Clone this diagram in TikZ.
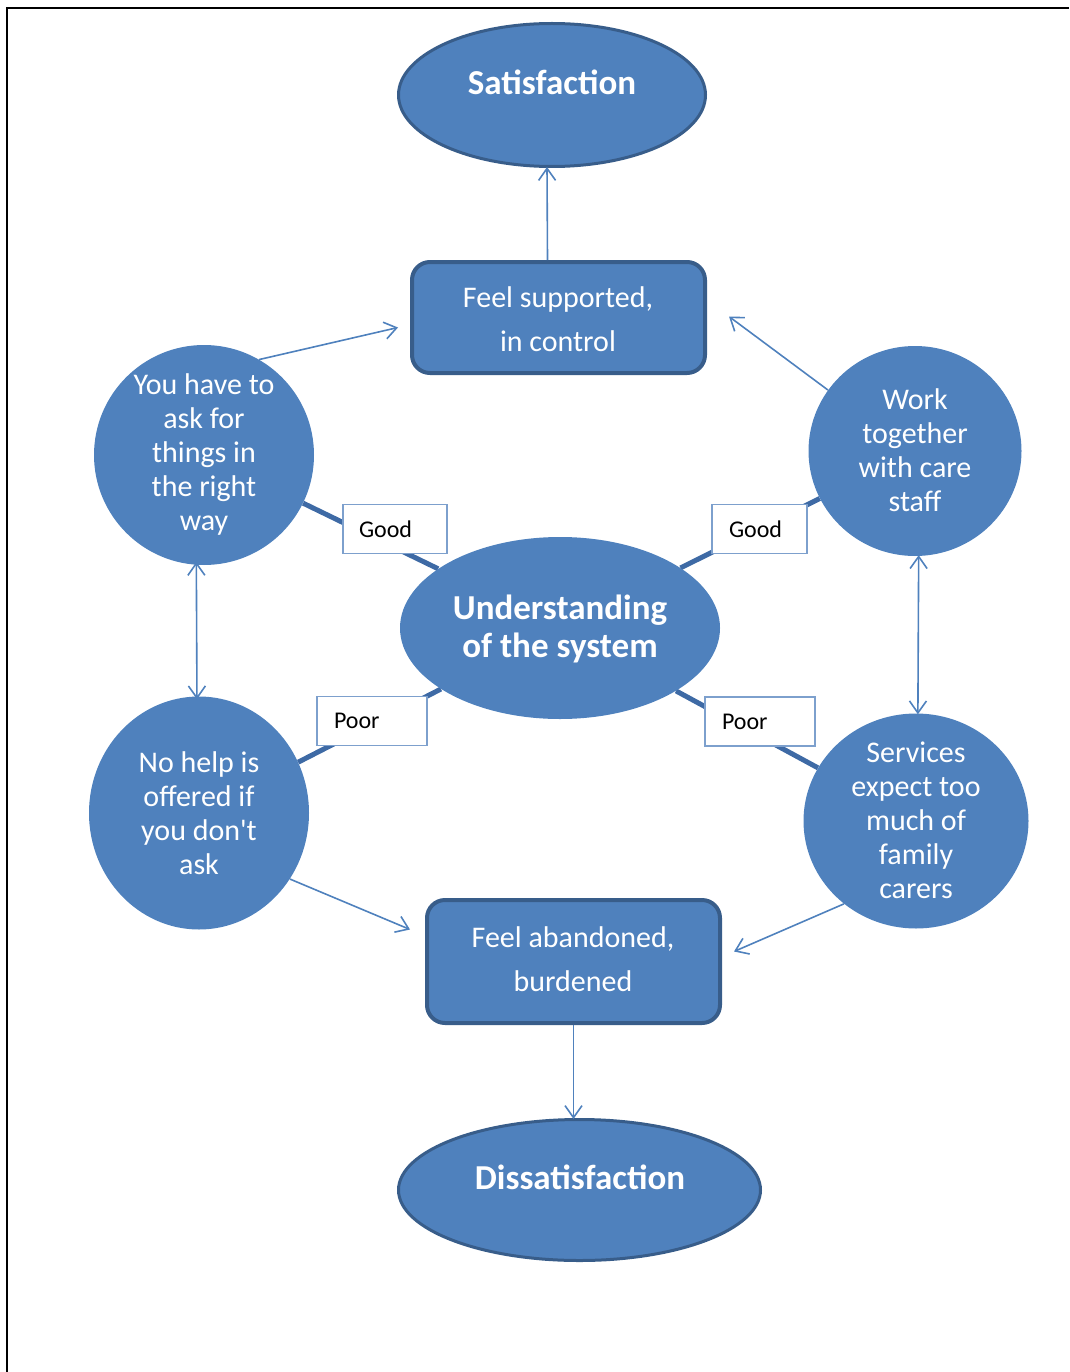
\documentclass[tikz,border=0pt]{standalone}
\usepackage{fontspec}
\setmainfont{Carlito}
\newfontfamily\rawq{Carlito}[Ligatures=TeXOff]
\usetikzlibrary{shapes.geometric,arrows.meta}
\definecolor{fillb}{RGB}{79,129,189}
\definecolor{edgeb}{RGB}{56,93,138}
\definecolor{thickb}{RGB}{62,106,165}
\definecolor{labb}{RGB}{125,160,205}
\pgfdeclarelayer{background}
\pgfsetlayers{background,main}
\begin{document}
\begin{tikzpicture}[x=1pt,y=-1pt,
  blob/.style={ellipse, fill=fillb, draw=none, inner sep=0pt},
  oval/.style={ellipse, fill=fillb, draw=edgeb, line width=3pt, inner sep=0pt},
  rbox/.style={rectangle, rounded corners=18pt, fill=fillb, draw=edgeb, line width=4pt, inner sep=0pt},
  ctext/.style={text=white, align=center, font=\fontsize{30}{34}\selectfont},
  btext/.style={text=white, align=center, font=\fontsize{30}{44}\selectfont},
  ttext/.style={text=white, align=center, font=\bfseries\fontsize{35}{38}\selectfont},
  arr/.style={draw=fillb, line width=1.6pt, -{Straight Barb[length=12pt,width=17pt]}},
  darr/.style={draw=fillb, line width=1.6pt, {Straight Barb[length=12pt,width=17pt]}-{Straight Barb[length=12pt,width=17pt]}},
  thick link/.style={draw=thickb, line width=5pt},
  lab/.style={rectangle, fill=white, draw=labb, line width=1.3pt, align=left, inner ysep=0pt, minimum height=49pt, font=\fontsize{24}{28}\selectfont, text=black}
]
\useasboundingbox (0,0) rectangle (1069,1372);
% frame
\draw[line width=2.5pt, black] (7,1372) -- (7,8) -- (1069,8);

% main shapes
\node[oval, minimum width=307pt, minimum height=143pt] (sat) at (552,95) {};
\node[ttext] (sattxt) at (552,82) {Satisfaction};

\node[rbox, minimum width=293pt, minimum height=111pt] (sup) at (558.5,317.5) {};
\node[btext] (suptxt) at (558,319) {Feel supported,\\in control};

\node[blob, minimum width=220pt, minimum height=220pt] (you) at (204,455) {};
\node[ctext] (youtxt) at (204,454) {You have to\\ask for\\things in\\the right\\way};

\node[blob, minimum width=213pt, minimum height=210pt] (work) at (915,451) {};
\node[ctext] (worktxt) at (915,450) {Work\\together\\with care\\staff};

\node[blob, minimum width=320pt, minimum height=182pt] (und) at (560,628) {};
\node[ttext] (undtxt) at (560,629) {Understanding\\of the system};

\node[blob, minimum width=220pt, minimum height=233pt] (nohelp) at (199,813) {};
\node[ctext] (nohelptxt) at (199,813) {No help is\\offered if\\you don{\rawq\char"0027}t\\ask};

\node[blob, minimum width=225pt, minimum height=215pt] (serv) at (916,821) {};
\node[ctext] (servtxt) at (916,820) {Services\\expect too\\much of\\family\\carers};

\node[rbox, minimum width=293pt, minimum height=123pt] (aban) at (573.5,961.5) {};
\node[btext] (abantxt) at (573,959) {Feel abandoned,\\burdened};

\node[oval, minimum width=362pt, minimum height=141pt] (dis) at (579.5,1190) {};
\node[ttext] (distxt) at (580,1177) {Dissatisfaction};

% thick links behind
\begin{pgfonlayer}{background}
\draw[thick link] (you) -- (und);
\draw[thick link] (work) -- (und);
\draw[thick link] (nohelp) -- (und);
\draw[thick link] (serv) -- (und);
\end{pgfonlayer}

% labels
\node[lab, text width=72pt, inner xsep=16pt] (g1) at (395,529) {Good};
\node[lab, text width=61pt, inner xsep=17pt] (g2) at (759.5,529) {Good};
\node[lab, text width=76pt, inner xsep=17pt] (p1) at (372,721) {Poor};
\node[lab, text width=76pt, inner xsep=17pt] (p2) at (760,721.5) {Poor};

% arrows
\draw[arr] ([xshift=-11pt]sup.north) -- ([xshift=-5pt,yshift=1pt]sat.south);
\draw[arr] (you.60) -- ([xshift=-12pt,yshift=-10pt]sup.west);
\draw[arr] (work.145) -- ([xshift=22pt,yshift=1pt]sup.east);
\draw[darr] ([yshift=3pt]you.266) -- ([yshift=-3pt]nohelp.91);
\draw[darr] ([yshift=1pt]work.272) -- ([yshift=-1pt]serv.89);
\draw[arr] (nohelp.-36) -- ([xshift=-15pt,yshift=32pt]aban.west);
\draw[arr] (serv.229) -- ([xshift=12pt,yshift=10pt]aban.east);
\draw[arr] (aban.south) -- ([yshift=-1pt]aban.south |- dis.north);
\end{tikzpicture}
\end{document}
